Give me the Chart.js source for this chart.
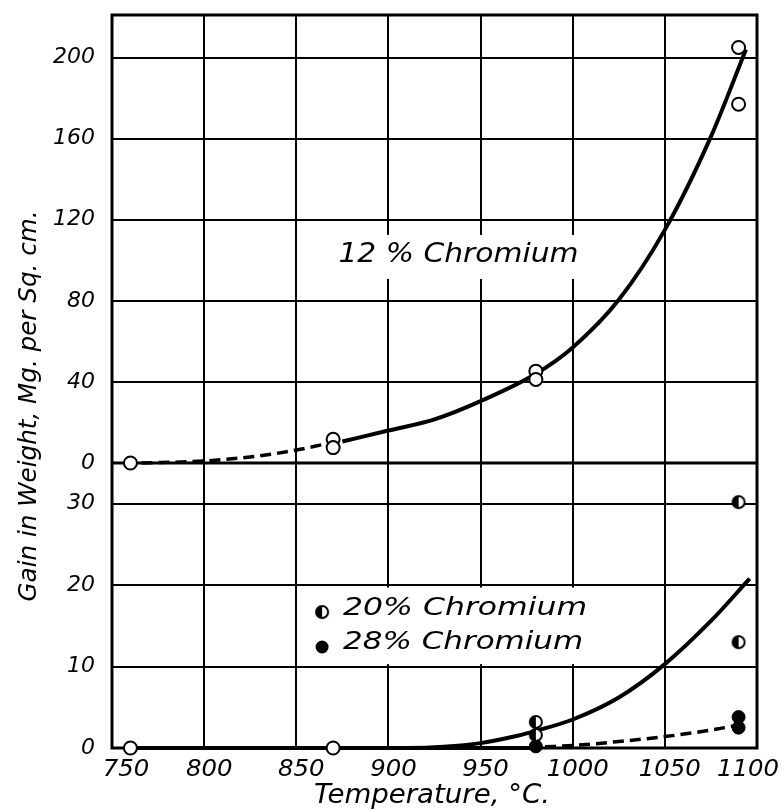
<!DOCTYPE html>
<html>
<head>
<meta charset="utf-8">
<script src="https://cdn.jsdelivr.net/npm/chart.js@4.4.1/dist/chart.umd.min.js"></script>
<style>
  html, body { margin: 0; padding: 0; background: #fff; }
  #wrap { width: 781px; height: 810px; }
</style>
</head>
<body>
<div id="wrap"><canvas id="gainChart" width="781" height="810"></canvas></div>
<script>
// axis ticks
const xTicks = [750, 800, 850, 900, 950, 1000, 1050, 1100];
const topTicks = [0, 40, 80, 120, 160, 200];
const bottomTicks = [0, 10, 20, 30];

// 12% chromium - measured points (temp, gain)
const cr12Temps = [760, 870, 870, 980, 980, 1090, 1090];
const cr12Gain = [0, 11.7, 7.6, 45.3, 41.2, 205, 177];
// 12% curve, dashed low end + solid part
const cr12DashTemps = [766, 800, 830, 850, 865];
const cr12DashGain = [0, 1, 3.5, 6.4, 9.2];
const cr12CurveTemps = [875, 900, 925, 950, 980, 1000, 1025, 1050, 1075, 1094];
const cr12CurveGain = [10.6, 16, 21.5, 30.5, 44, 57, 80.5, 115, 161, 204];

// lower panel - open points at low temperature
const lowTemps = [760, 870];
const lowGain = [0, 0];
// 20% chromium (half filled) and 28% chromium (filled)
const cr20Temps = [980, 980, 1090, 1090];
const cr20Gain = [3.2, 1.6, 30.2, 13];
const cr28Temps = [980, 1090, 1090];
const cr28Gain = [0.2, 3.8, 2.5];
// curves in lower panel
const cr20CurveTemps = [760, 870, 910, 930, 950, 970, 980, 1000, 1025, 1050, 1075, 1096];
const cr20CurveGain = [0, 0, 0, 0.15, 0.6, 1.5, 2.1, 3.5, 6.2, 10.3, 15.6, 20.8];
const cr28BaseTemps = [760, 980];
const cr28BaseGain = [0, 0];
const cr28DashTemps = [985, 1000, 1025, 1050, 1075, 1092];
const cr28DashGain = [0.15, 0.3, 0.8, 1.4, 2.2, 2.9];

const pts = (xs, ys) => xs.map((x, i) => ({ x: x, y: ys[i] }));

// marker for the 20% series: left half black
function halfDot(r) {
  const c = document.createElement('canvas');
  const s = 2 * r + 4;
  c.width = s;
  c.height = s;
  const g = c.getContext('2d');
  g.fillStyle = '#fff';
  g.beginPath(); g.arc(s / 2, s / 2, r, 0, Math.PI * 2); g.fill();
  g.fillStyle = '#000';
  g.beginPath(); g.arc(s / 2, s / 2, r, Math.PI / 2, Math.PI * 1.5); g.fill();
  g.lineWidth = 2;
  g.strokeStyle = '#000';
  g.beginPath(); g.arc(s / 2, s / 2, r, 0, Math.PI * 2); g.stroke();
  return c;
}
const halfMarker = halfDot(6);

const FONT = '"DejaVu Sans", sans-serif';

// draw text stretched to a given width (the original lettering is wide)
function wideText(ctx, text, cx, cy, width, size, rotate) {
  ctx.save();
  ctx.font = 'italic ' + size + 'px ' + FONT;
  ctx.textAlign = 'center';
  ctx.textBaseline = 'middle';
  const w = ctx.measureText(text).width;
  ctx.translate(cx, cy);
  if (rotate) ctx.rotate(-Math.PI / 2);
  ctx.scale(width / w, 1);
  ctx.fillText(text, 0, 0);
  ctx.restore();
}

const decorations = {
  id: 'decorations',
  beforeDatasetsDraw(chart) {
    const { ctx, chartArea: a, scales } = chart;
    const x = scales.x, yt = scales.yTop, yb = scales.yBot;
    ctx.save();
    // white boxes behind the labels
    ctx.fillStyle = '#fff';
    let l = x.getPixelForValue(871), r = x.getPixelForValue(1012);
    let t = yt.getPixelForValue(112.5), b = yt.getPixelForValue(90.8);
    ctx.fillRect(l, t, r - l, b - t);
    l = x.getPixelForValue(853.5); r = x.getPixelForValue(1015);
    t = yb.getPixelForValue(19.7); b = yb.getPixelForValue(10.3);
    ctx.fillRect(l, t, r - l, b - t);

    // frame and panel divider
    ctx.strokeStyle = '#000';
    ctx.lineWidth = 3;
    ctx.strokeRect(a.left, a.top, a.right - a.left, a.bottom - a.top);
    ctx.beginPath();
    const y0 = yt.getPixelForValue(0);
    ctx.moveTo(a.left, y0);
    ctx.lineTo(a.right, y0);
    ctx.stroke();

    ctx.fillStyle = '#000';
    wideText(ctx, '12 % Chromium', x.getPixelForValue(938), yt.getPixelForValue(102.5), 240, 26);

    // legend of lower panel
    const mx = x.getPixelForValue(864);
    ctx.drawImage(halfMarker, mx - halfMarker.width / 2, yb.getPixelForValue(16.7) - halfMarker.height / 2);
    ctx.beginPath();
    ctx.arc(mx, yb.getPixelForValue(12.4), 6.5, 0, Math.PI * 2);
    ctx.fill();
    wideText(ctx, '20% Chromium', mx + 143, yb.getPixelForValue(17.1), 244, 25);
    wideText(ctx, '28% Chromium', mx + 141, yb.getPixelForValue(12.9), 240, 25);

    // x tick labels, nudged like the printed ones (first right, last left)
    xTicks.forEach((v, i) => {
      let dx = 5;
      if (i === 0) dx = 14;
      if (i === xTicks.length - 1) dx = -9;
      const s = String(v);
      wideText(ctx, s, x.getPixelForValue(v) + dx, a.bottom + 22, s.length * 15.5, 23);
    });

    // axis titles
    wideText(ctx, 'Gain in Weight, Mg. per Sq. cm.', 30, 406, 391, 24, true);
    wideText(ctx, 'Temperature, °C.', 432, 796, 236, 26);
    ctx.restore();
  }
};

const gridStyle = { color: '#000', lineWidth: 2, drawTicks: false };
const tickFont = { family: FONT, style: 'italic', size: 22 };
const plainNum = v => String(v);
const noEdgePad = s => { s.paddingTop = 0; s.paddingBottom = 0; s.paddingLeft = 0; s.paddingRight = 0; };

new Chart(document.getElementById('gainChart'), {
  type: 'scatter',
  data: {
    datasets: [
      { data: pts(cr12Temps, cr12Gain), yAxisID: 'yTop', pointRadius: 6.5, borderWidth: 2,
        borderColor: '#000', backgroundColor: '#fff', clip: false },
      { data: pts(lowTemps, lowGain), yAxisID: 'yBot', pointRadius: 6.5, borderWidth: 2,
        borderColor: '#000', backgroundColor: '#fff', clip: false },
      { data: pts(cr20Temps, cr20Gain), yAxisID: 'yBot', pointStyle: halfMarker, pointRadius: 7, clip: false },
      { data: pts(cr28Temps, cr28Gain), yAxisID: 'yBot', pointRadius: 6.5, borderWidth: 1,
        borderColor: '#000', backgroundColor: '#000', clip: false },
      { data: pts(cr12DashTemps, cr12DashGain), yAxisID: 'yTop', showLine: true, pointRadius: 0,
        borderColor: '#000', borderWidth: 3.5, borderDash: [11, 6], cubicInterpolationMode: 'monotone', clip: false },
      { data: pts(cr12CurveTemps, cr12CurveGain), yAxisID: 'yTop', showLine: true, pointRadius: 0,
        borderColor: '#000', borderWidth: 4, cubicInterpolationMode: 'monotone', clip: false },
      { data: pts(cr20CurveTemps, cr20CurveGain), yAxisID: 'yBot', showLine: true, pointRadius: 0,
        borderColor: '#000', borderWidth: 4, cubicInterpolationMode: 'monotone', clip: false },
      { data: pts(cr28BaseTemps, cr28BaseGain), yAxisID: 'yBot', showLine: true, pointRadius: 0,
        borderColor: '#000', borderWidth: 4, clip: false },
      { data: pts(cr28DashTemps, cr28DashGain), yAxisID: 'yBot', showLine: true, pointRadius: 0,
        borderColor: '#000', borderWidth: 3.5, borderDash: [11, 6], cubicInterpolationMode: 'monotone', clip: false }
    ]
  },
  options: {
    responsive: false,
    animation: false,
    layout: { padding: { top: 15, right: 24, left: 0, bottom: 0 } },
    plugins: { legend: { display: false }, tooltip: { enabled: false } },
    scales: {
      x: {
        type: 'linear', min: 750, max: 1100,
        afterBuildTicks: s => { s.ticks = xTicks.map(v => ({ value: v })); },
        afterFit: s => { s.height = 62; noEdgePad(s); },
        grid: gridStyle,
        border: { display: false },
        ticks: { display: false }
      },
      yBot: {
        type: 'linear', position: 'left', stack: 'panels', stackWeight: 285, min: 0, max: 35,
        afterBuildTicks: s => { s.ticks = bottomTicks.map(v => ({ value: v })); },
        afterFit: s => { s.width = 112; noEdgePad(s); },
        grid: gridStyle,
        border: { display: false },
        ticks: { color: '#000', font: tickFont, padding: 17, autoSkip: false, callback: plainNum }
      },
      yTop: {
        type: 'linear', position: 'left', stack: 'panels', stackWeight: 448, min: 0, max: 221,
        afterBuildTicks: s => { s.ticks = topTicks.map(v => ({ value: v })); },
        afterFit: s => { s.width = 112; noEdgePad(s); },
        grid: gridStyle,
        border: { display: false },
        ticks: { color: '#000', font: tickFont, padding: 17, autoSkip: false, callback: plainNum }
      }
    }
  },
  plugins: [decorations]
});
</script>
</body>
</html>
